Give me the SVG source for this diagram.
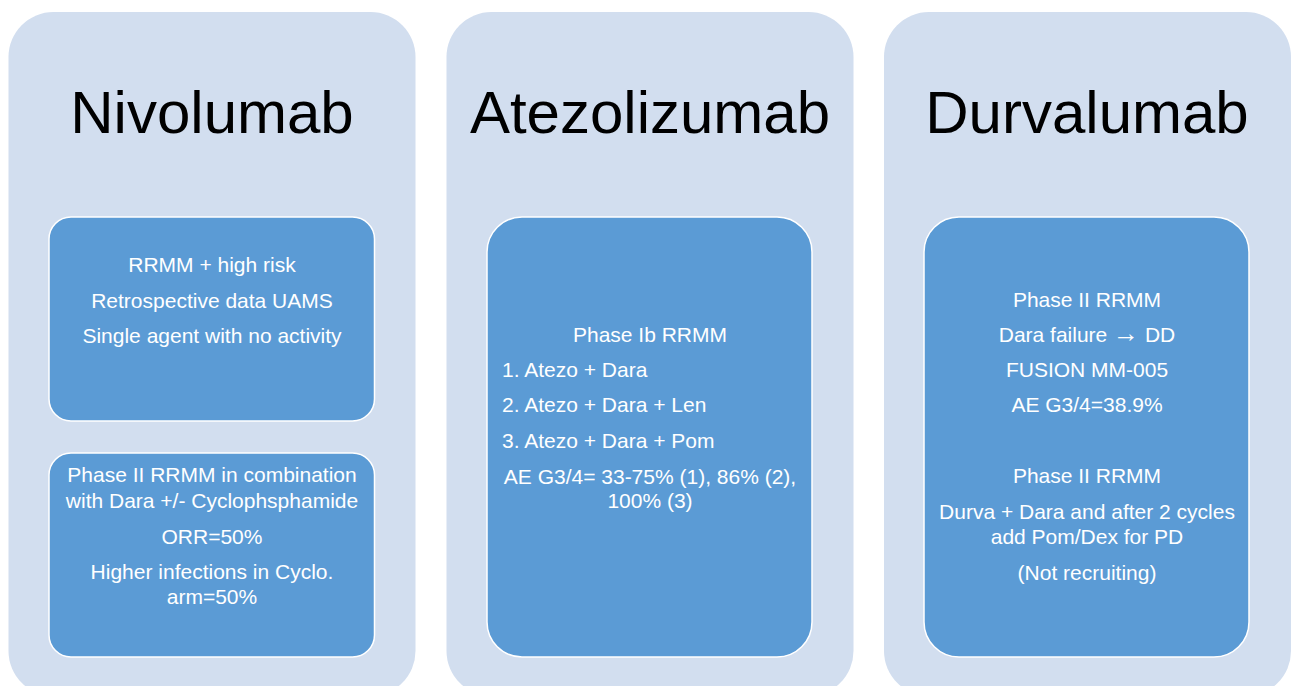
<svg xmlns="http://www.w3.org/2000/svg" width="1293" height="686" viewBox="0 0 1293 686">
<style>
.panel{fill:#D2DEEF;}
.box{fill:#5B9BD5;stroke:#FFFFFF;stroke-width:1.5;}
.title{font-family:"Liberation Sans",Arial,sans-serif;font-size:60px;fill:#000000;text-anchor:middle;}
.t{font-family:"Liberation Sans",Arial,sans-serif;font-size:21px;fill:#FFFFFF;text-anchor:middle;}
.tl{font-family:"Liberation Sans",Arial,sans-serif;font-size:21px;fill:#FFFFFF;text-anchor:start;}
.arr{font-size:26px;}
</style>
<rect width="1293" height="686" fill="#FFFFFF"/>
<g id="panel-nivolumab">
<rect class="panel" x="8.5" y="12" width="407" height="684" rx="45"/>
<text class="title" x="212" y="133">Nivolumab</text>
</g>
<g id="panel-atezolizumab">
<rect class="panel" x="446.5" y="12" width="407" height="684" rx="45"/>
<text class="title" x="650" y="133">Atezolizumab</text>
</g>
<g id="panel-durvalumab">
<rect class="panel" x="884" y="12" width="407" height="684" rx="45"/>
<text class="title" x="1087" y="133">Durvalumab</text>
</g>
<g id="box-nivo-1">
<rect class="box" x="49" y="217" width="325.5" height="204" rx="22"/>
<text class="t" x="212" y="272">RRMM + high risk</text>
<text class="t" x="212" y="308">Retrospective data UAMS</text>
<text class="t" x="212" y="343">Single agent with no activity</text>
</g>
<g id="box-nivo-2">
<rect class="box" x="49" y="453" width="325.5" height="204" rx="22"/>
<text class="t" x="212" y="482">Phase II RRMM in combination</text>
<text class="t" x="212" y="508">with Dara +/- Cyclophsphamide</text>
<text class="t" x="212" y="544">ORR=50%</text>
<text class="t" x="212" y="579">Higher infections in Cyclo.</text>
<text class="t" x="212" y="604">arm=50%</text>
</g>
<g id="box-atezo">
<rect class="box" x="487" y="217" width="325" height="440" rx="35"/>
<text class="t" x="650" y="342">Phase Ib RRMM</text>
<text class="tl" x="502" y="377">1. Atezo + Dara</text>
<text class="tl" x="502" y="412">2. Atezo + Dara + Len</text>
<text class="tl" x="502" y="448">3. Atezo + Dara + Pom</text>
<text class="t" x="650" y="484">AE G3/4= 33-75% (1), 86% (2),</text>
<text class="t" x="650" y="508">100% (3)</text>
</g>
<g id="box-durva">
<rect class="box" x="924" y="217" width="325" height="440" rx="35"/>
<text class="t" x="1087" y="307">Phase II RRMM</text>
<text class="t" x="1087" y="342">Dara failure <tspan class="arr">→</tspan> DD</text>
<text class="t" x="1087" y="377">FUSION MM-005</text>
<text class="t" x="1087" y="412">AE G3/4=38.9%</text>
<text class="t" x="1087" y="483">Phase II RRMM</text>
<text class="t" x="1087" y="519">Durva + Dara and after 2 cycles</text>
<text class="t" x="1087" y="544">add Pom/Dex for PD</text>
<text class="t" x="1087" y="580">(Not recruiting)</text>
</g>
<g id="connectors"></g>
</svg>
